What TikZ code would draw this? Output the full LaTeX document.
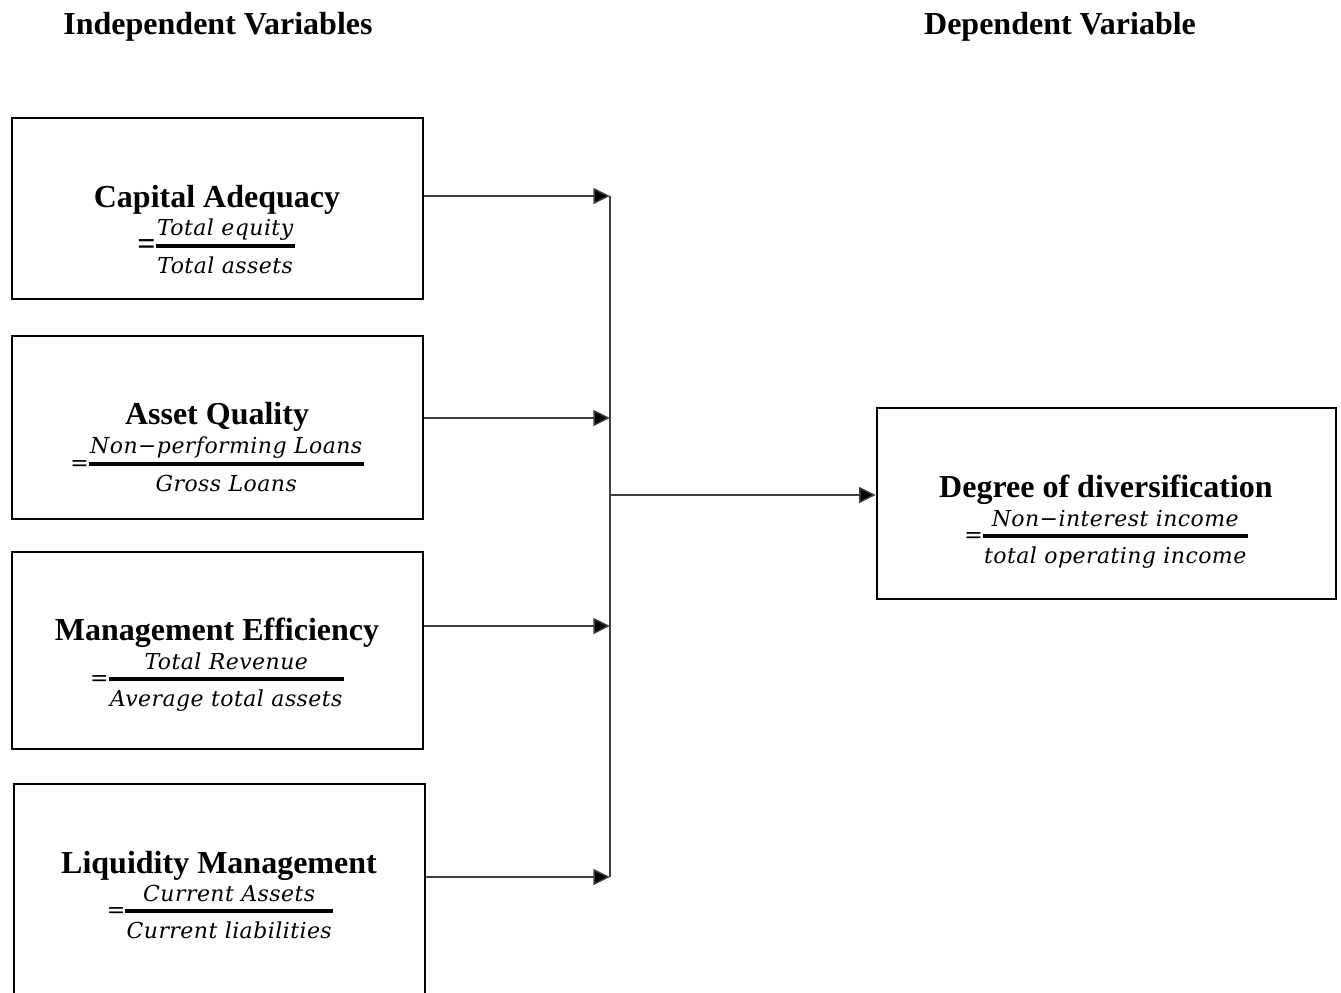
\documentclass[tikz,border=0pt]{standalone}
\usepackage{fontspec}
\setmainfont{Liberation Serif}
\newfontfamily\fracf{DejaVu Serif}[LetterSpace=2]
\usetikzlibrary{arrows.meta}
\newcommand{\frstrut}{\vrule width0pt height0.74em depth0.2em}
\newcommand{\myfr}[2]{%
  \setbox0=\hbox{\kern1pt\frstrut\fracf\itshape #1\kern1pt}%
  \setbox2=\hbox{\kern1pt\frstrut\fracf\itshape #2\kern1pt}%
  \ifdim\wd0<\wd2 \setbox0=\hbox to\wd2{\hfil\unhbox0\hfil}%
  \else\setbox2=\hbox to\wd0{\hfil\unhbox2\hfil}\fi
  \vbox{\offinterlineskip\box0\kern2.5pt
    \vtop{\offinterlineskip\hrule height1.5pt depth1.5pt\kern6.8pt\box2}}}
\newcommand{\myeq}{\lower5pt\hbox{\fracf =}}
\newcommand{\myeqb}{\lower6pt\hbox{\fontsize{24}{28}\selectfont\bfseries =}}
\begin{document}
\begin{tikzpicture}[x=0.75pt,y=-0.75pt,
  box/.style={draw=black, line width=1.9pt, inner sep=0pt},
  hdr/.style={font=\fontsize{24}{28}\selectfont\bfseries, anchor=base, inner sep=0pt},
  ttl/.style={font=\fontsize{24}{28}\selectfont\bfseries, anchor=base, inner sep=0pt},
  frc/.style={font=\fontsize{16.5}{19}\selectfont, anchor=base, inner sep=0pt},
  conn/.style={draw=black!75, line width=1.1pt},
  arr/.style={conn, -{Triangle[length=12.5pt, width=12pt, fill=black]}}]
\useasboundingbox (0,0) rectangle (1341,992);
\clip (0,0) rectangle (1341,992);
% headers
\node[hdr] (hi) at (218,34) {Independent Variables};
\node[hdr] (hd) at (1060,34) {Dependent Variable};
% boxes
\node[box, minimum width=308.25pt, minimum height=135.75pt] (b1) at (217.5,208.5) {};
\node[box, minimum width=308.25pt, minimum height=137.25pt] (b2) at (217.5,427.5) {};
\node[box, minimum width=308.25pt, minimum height=147.75pt] (b3) at (217.5,650.5) {};
\node[box, minimum width=308.25pt, minimum height=162pt] (b4) at (219.5,892) {};
\node[box, minimum width=344.25pt, minimum height=143.25pt] (br) at (1106.5,503.5) {};
% titles
\node[ttl] (t1) at (217,207) {Capital Adequacy};
\node[ttl] (t2) at (217,424) {Asset Quality};
\node[ttl] (t3) at (217,640) {Management Efficiency};
\node[ttl] (t4) at (219,873) {Liquidity Management};
\node[ttl] (tr) at (1106,497) {Degree of diversification};
% fractions
\node[frc] (f1) at (216,246) {\myeqb\myfr{Total equity}{Total assets}};
\node[frc] (f2) at (217,464) {\myeq\myfr{Non−performing Loans}{Gross Loans}};
\node[frc] (f3) at (217,679) {\myeq\myfr{Total Revenue}{Average total assets}};
\node[frc] (f4) at (220,911) {\myeq\myfr{Current Assets}{Current liabilities}};
\node[frc] (fr) at (1106,536) {\myeq\myfr{Non−interest income}{total operating income}};
% junction
\coordinate (j1) at (610,196);
\coordinate (j2) at (610,418);
\coordinate (j3) at (610,626);
\coordinate (j4) at (610,877);
\coordinate (jm) at (610,495);
\draw[conn] (j1) -- (j4);
\draw[arr] (j1 -| b1.east) -- (j1);
\draw[arr] (j2 -| b2.east) -- (j2);
\draw[arr] (j3 -| b3.east) -- (j3);
\draw[arr] (j4 -| b4.east) -- (j4);
\draw[arr] (jm) -- (jm -| br.west);
\end{tikzpicture}
\end{document}
